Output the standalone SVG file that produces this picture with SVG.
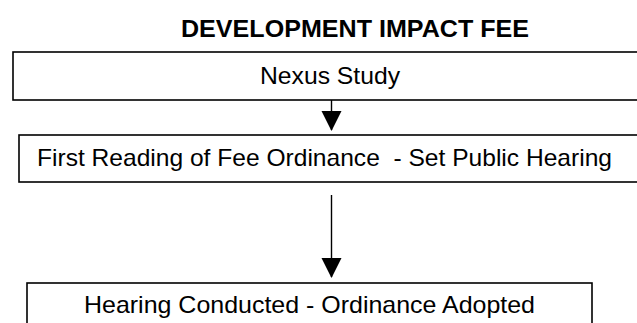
<svg xmlns="http://www.w3.org/2000/svg" width="637" height="323" viewBox="0 0 637 323">
<style>
.box{fill:#fff;stroke:#000;stroke-width:1.6}
.t{font-family:"Liberation Sans",Arial,sans-serif;font-size:24px;fill:#000;text-anchor:middle}
.title{font-family:"Liberation Sans",Arial,sans-serif;font-size:24px;font-weight:bold;fill:#000;text-anchor:middle}
.conn{stroke:#000;stroke-width:1.4;fill:none}
</style>
<defs>
<marker id="ah" markerUnits="userSpaceOnUse" markerWidth="20" markerHeight="21" refX="19" refY="10" orient="auto" viewBox="0 0 20 20">
<path d="M0,0 L20,10 L0,20 Z" fill="#000"/>
</marker>
</defs>
<rect width="637" height="323" fill="#fff"/>
<text class="title" x="355" y="37" textLength="348" lengthAdjust="spacingAndGlyphs">DEVELOPMENT IMPACT FEE</text>
<g id="node-nexus">
<rect class="box" x="13" y="52" width="640" height="48"/>
<text class="t" x="330" y="84" textLength="140" lengthAdjust="spacingAndGlyphs">Nexus Study</text>
</g>
<g id="node-first-reading">
<rect class="box" x="19" y="135" width="640" height="47"/>
<text class="t" x="324.5" y="166" textLength="575" lengthAdjust="spacingAndGlyphs" xml:space="preserve">First Reading of Fee Ordinance  - Set Public Hearing</text>
</g>
<g id="node-hearing">
<rect class="box" x="27" y="283" width="565" height="60"/>
<text class="t" x="309.5" y="313" textLength="451" lengthAdjust="spacingAndGlyphs">Hearing Conducted - Ordinance Adopted</text>
</g>
<g id="connectors">
<line class="conn" x1="331.5" y1="100" x2="331.5" y2="130" marker-end="url(#ah)"/>
<line class="conn" x1="331.5" y1="195" x2="331.5" y2="277" marker-end="url(#ah)"/>
</g>
</svg>
